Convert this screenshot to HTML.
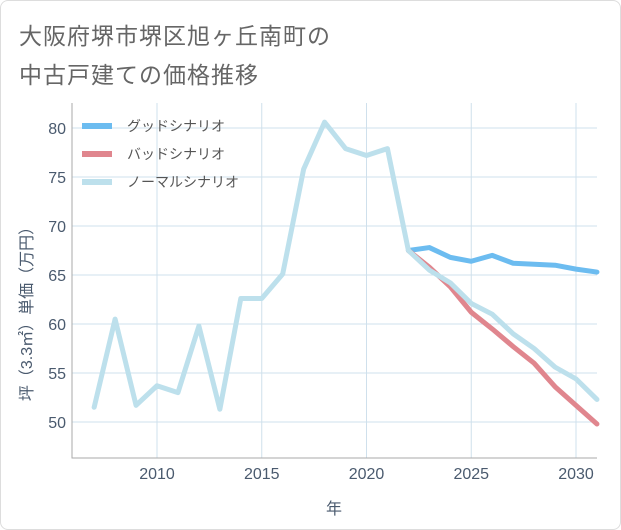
<!DOCTYPE html>
<html><head><meta charset="utf-8">
<style>
body{margin:0;background:#fff;}
#wrap{position:relative;width:619px;height:528px;border:1px solid #ddd;border-radius:8px;overflow:hidden;background:#fff;font-family:"Liberation Sans","Noto Sans CJK JP",sans-serif;}
.title{position:absolute;left:18px;font-size:23px;color:#666;letter-spacing:1px;}
</style></head><body>
<div id="wrap">
<div class="title" style="top:16px">大阪府堺市堺区旭ヶ丘南町の</div>
<div class="title" style="top:55px">中古戸建ての価格推移</div>
<svg id="chart" width="621" height="530" style="position:absolute;left:-1px;top:-1px"></svg>
</div>
<script>
const years=[2007,2008,2009,2010,2011,2012,2013,2014,2015,2016,2017,2018,2019,2020,2021,2022,2023,2024,2025,2026,2027,2028,2029,2030,2031];
const normalVals=[51.5,60.5,51.7,53.7,53.0,59.8,51.3,62.6,62.6,65.1,75.8,80.6,77.9,77.2,77.9,67.5,65.5,64.2,62.1,61.0,59.0,57.5,55.6,54.4,52.3];
const goodYears=[2022,2023,2024,2025,2026,2027,2028,2029,2030,2031];
const goodVals=[67.5,67.8,66.8,66.4,67.0,66.2,66.1,66.0,65.6,65.3];
const badVals=[67.5,65.8,63.8,61.2,59.5,57.7,56.0,53.6,51.7,49.8];
const xTicks=[2010,2015,2020,2025,2030];
const yTicks=[50,55,60,65,70,75,80];
const L=72,R=597,T=103,B=458;
const x=v=>157+(v-2010)*20.95;
const y=v=>128+(80-v)*9.8;
const svg=document.getElementById('chart');
const NS='http://www.w3.org/2000/svg';
const TC='#4a5a6e';
function mk(t,a){const e=document.createElementNS(NS,t);for(const k in a)e.setAttribute(k,a[k]);svg.appendChild(e);return e;}
xTicks.forEach(t=>{
 const l=mk('line',{x1:x(t),x2:x(t),y1:T,y2:B,stroke:'#cfe0ec','stroke-width':1});
 
 
 const tx=mk('text',{x:x(t),y:479,'text-anchor':'middle','font-size':16,fill:TC});
 tx.textContent=t;
 
 
});
yTicks.forEach(t=>{
 const l=mk('line',{x1:L,x2:R,y1:y(t),y2:y(t),stroke:'#cfe0ec','stroke-width':1});
 
 
 const tx=mk('text',{x:66,y:y(t)+6,'text-anchor':'end','font-size':16,fill:TC});
 tx.textContent=t;
 
 
});
const ax=mk('path',{d:`M${L},${T}V${B}H${R}`,fill:'none',stroke:'#aaa','stroke-width':1});


function line(xs,vs,color,name){
 const p=mk('polyline',{points:xs.map((v,i)=>x(v)+','+y(vs[i])).join(' '),fill:'none',stroke:color,'stroke-width':5,'stroke-linejoin':'round','stroke-linecap':'round'});
 
 
}
line(goodYears,goodVals,'#6cbcf0','good-scenario-line');
line(goodYears,badVals,'#e0868e','bad-scenario-line');
line(years,normalVals,'#bde0ec','normal-scenario-line');
const legend=[['グッドシナリオ','#6cbcf0'],['バッドシナリオ','#e0868e'],['ノーマルシナリオ','#bde0ec']];
legend.forEach((d,i)=>{
 const yy=126+i*28;
 const r=mk('rect',{x:82,y:yy-3,width:30,height:6,fill:d[1]});
 
 
 const t=mk('text',{x:127,y:yy+5,'font-size':14,fill:'#555'});
 t.textContent=d[0];
 
 
});
const xt=mk('text',{x:334,y:514,'text-anchor':'middle','font-size':16,fill:TC});
xt.textContent='年';


const yt=mk('text',{x:0,y:0,'text-anchor':'middle','font-size':16,fill:TC,transform:'translate(32,310) rotate(-90)'});
yt.textContent='坪（3.3㎡）単価（万円）';


</script>
</body></html>
